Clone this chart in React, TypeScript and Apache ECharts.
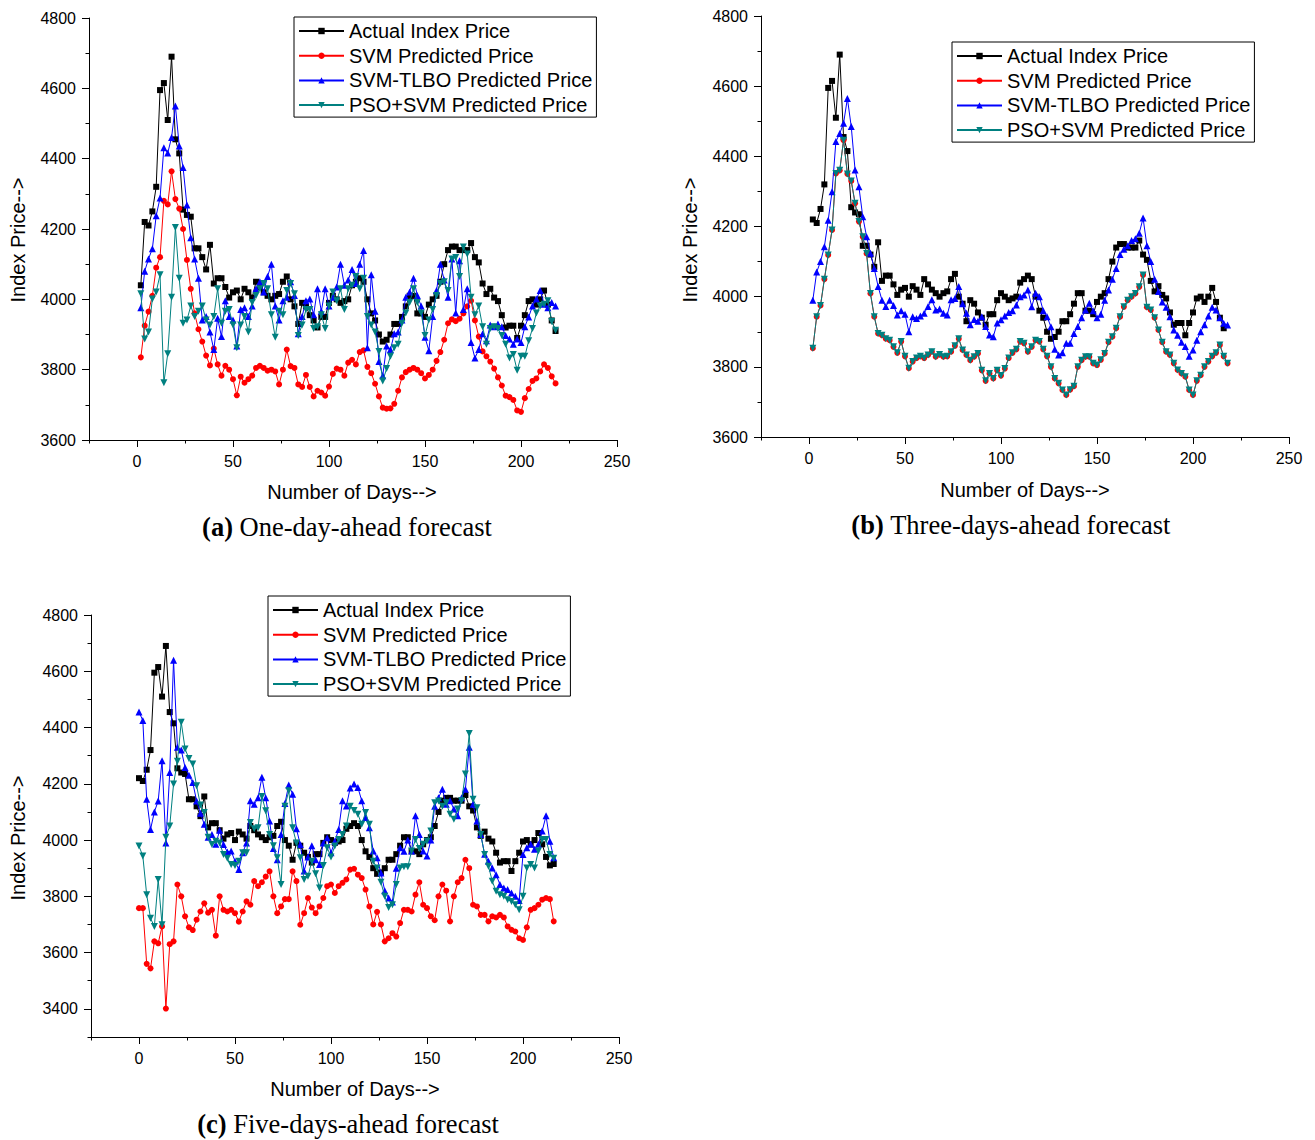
import React, { useEffect, useRef } from "react";
import * as echarts from "echarts";

// ---- Series names ----
const NAMES = ["Actual Index Price", "SVM Predicted Price", "SVM-TLBO Predicted Price", "PSO+SVM Predicted Price"];

// ---- Tick labels ----
const X_TICKS = [0, 50, 100, 150, 200, 250];
const X_MINOR = [-25, 25, 75, 125, 175, 225];
const Y_TICKS_AB = [3600, 3800, 4000, 4200, 4400, 4600, 4800];
const Y_MINOR_AB = [3700, 3900, 4100, 4300, 4500, 4700];
const Y_TICKS_C = [3400, 3600, 3800, 4000, 4200, 4400, 4600, 4800];
const Y_MINOR_C = [3300, 3500, 3700, 3900, 4100, 4300, 4500, 4700];

// ---- Actual index price, sampled every second day (days 2..218) ----
const ACTUAL = [
  4040, 4220, 4210, 4250, 4320, 4595, 4615, 4510, 4690, 4455,
  4415, 4255, 4240, 4235, 4145, 4145, 4120, 4085, 4155, 4045,
  4060, 4060, 4035, 4005, 4020, 4025, 4000, 4030, 4020, 4005,
  4050, 4035, 4020, 4010, 4000, 4010, 4015, 4050, 4065, 4000,
  3980, 3930, 3990, 3980, 3955, 3940, 3920, 3950, 3950, 3990,
  4010, 4000, 3990, 3995, 4000, 4040, 4050, 4060, 4050, 4000,
  3960, 3940, 3900, 3880, 3885, 3900, 3930, 3930, 3950, 3980,
  4010, 4010, 3960, 3960, 3950, 3985, 4000, 4010, 4050, 4100,
  4140, 4150, 4150, 4140, 4140, 4140, 4160, 4120, 4105, 4045,
  4015, 4030, 4005, 3995, 3955, 3920, 3925, 3925, 3890, 3925,
  3955, 3995, 4000, 3985, 4000, 4025, 3985, 3940, 3910,
];
const ACTUAL_C_TAIL = [3915];

// ---- (a) One-day-ahead (days 2..218) ----
const SVM_A = [
  3835, 3925, 3965, 4010, 4090, 4120, 4280, 4270, 4364, 4285,
  4258, 4200, 4112, 4030, 3960, 3915, 3880, 3840, 3812, 3860,
  3815, 3783, 3811, 3800, 3773, 3727, 3780, 3763, 3773, 3783,
  3805, 3811, 3805, 3797, 3800, 3795, 3758, 3800, 3857, 3810,
  3805, 3758, 3751, 3785, 3751, 3724, 3740, 3735, 3726, 3752,
  3788, 3803, 3800, 3783, 3820, 3828, 3815, 3850, 3855, 3808,
  3790, 3760, 3724, 3692, 3689, 3690, 3703, 3740, 3778, 3793,
  3800, 3805, 3800, 3790, 3775, 3785, 3800, 3825, 3850, 3885,
  3932, 3943, 3938, 3945, 3960, 3980, 3996, 3940, 3894, 3852,
  3838, 3823, 3803, 3778, 3755, 3726, 3722, 3714, 3684, 3680,
  3719, 3745, 3768, 3775, 3795, 3815, 3805, 3781, 3761,
];
const TLBO_A = [
  3976, 4080, 4115, 4144, 4238, 4288, 4431, 4416, 4460, 4550,
  4436, 4375, 4268, 4175, 4115, 4060, 3941, 3951, 3907, 3857,
  3946, 3894, 3996, 3951, 3941, 3867, 3971, 3976, 3951, 3981,
  4030, 4050, 4021, 4065, 4100, 3981, 3941, 3996, 4006, 4050,
  4011, 3902, 3951, 3996, 4001, 3956, 4030, 3966, 4030, 3981,
  4006, 4035, 4100, 4040, 4055, 4085, 4045, 4100, 4139, 3862,
  4070, 3966, 3823, 3783, 3867, 3857, 3902, 3907, 3941, 4006,
  4021, 4060, 4011, 3981, 3892, 3854, 3951, 4025, 4100, 4055,
  4006, 4115, 3961, 4110, 3971, 4030, 3877, 3833, 3857, 3902,
  3882, 3927, 3922, 3930, 3922, 3897, 3887, 3872, 3887, 3877,
  3922, 3950, 3981, 4001, 4025, 3986, 3976, 3991, 3981,
];
const PSO_A = [
  4016, 3887, 3907, 4001, 4021, 4070, 3763, 3845, 4006, 4204,
  4060, 3932, 3941, 3981, 3951, 3966, 3981, 3941, 3927, 3951,
  4030, 3932, 3966, 3971, 3927, 3862, 3927, 3951, 3907, 3991,
  4011, 4030, 4045, 4030, 3956, 3892, 3966, 3956, 4025, 4045,
  4016, 3897, 3927, 3971, 3971, 3917, 3922, 3956, 3917, 3981,
  4021, 3996, 4030, 3971, 4030, 4040, 4065, 4030, 4060, 3951,
  3927, 3907, 3852, 3768, 3803, 3838, 3862, 3872, 3932, 3961,
  3991, 4030, 3991, 3961, 3897, 3941, 3971, 4011, 4045, 4050,
  4025, 4115, 4119, 4065, 4149, 4129, 4006, 3956, 3981, 3922,
  3872, 3917, 3922, 3917, 3897, 3872, 3833, 3843, 3798, 3838,
  3838, 3882, 3917, 3961, 3981, 3986, 3996, 3937, 3912,
];

// ---- (b) Three-days-ahead (days 2..218) ----
const SVM_B = [
  3853, 3943, 3975, 4050, 4119, 4190, 4351, 4360, 4446, 4350,
  4330, 4266, 4214, 4171, 4123, 4009, 3943, 3895, 3890, 3880,
  3876, 3857, 3840, 3872, 3830, 3796, 3815, 3825, 3830, 3825,
  3834, 3843, 3829, 3835, 3829, 3830, 3843, 3860, 3880, 3848,
  3834, 3819, 3829, 3838, 3790, 3760, 3781, 3767, 3790, 3775,
  3795, 3825, 3840, 3850, 3872, 3867, 3843, 3857, 3876, 3872,
  3850, 3830, 3800, 3767, 3753, 3734, 3720, 3735, 3745, 3800,
  3819, 3829, 3829, 3810, 3805, 3820, 3838, 3870, 3886, 3910,
  3943, 3971, 3990, 4000, 4009, 4028, 4062, 3970, 3962, 3940,
  3905, 3870, 3843, 3834, 3810, 3791, 3781, 3772, 3734, 3720,
  3760, 3776, 3800, 3815, 3830, 3840, 3862, 3830, 3810,
];
const TLBO_B = [
  3990, 4070, 4100, 4142, 4218, 4299, 4442, 4465, 4494, 4565,
  4485, 4361, 4313, 4228, 4171, 4124, 4080, 4029, 3990, 3972,
  3990, 3975, 3948, 3960, 3950, 3900, 3943, 3938, 3945, 3953,
  3972, 3991, 3962, 3965, 3953, 3948, 3991, 3995, 4029, 3980,
  3953, 3920, 3935, 3930, 3943, 3915, 3891, 3886, 3925, 3934,
  3945, 3955, 3960, 3976, 4000, 4005, 4019, 3971, 4010, 4000,
  3960, 3943, 3914, 3850, 3834, 3840, 3867, 3867, 3895, 3915,
  3940, 3962, 3981, 3960, 3940, 3950, 3990, 4019, 4050, 4080,
  4120, 4135, 4145, 4160, 4165, 4181, 4224, 4145, 4100, 4050,
  4015, 3985, 3970, 3943, 3905, 3890, 3870, 3858, 3830, 3848,
  3876, 3900, 3920, 3945, 3970, 3962, 3940, 3924, 3919,
];
// PSO+SVM lies on top of the SVM curve in panel (b)
const PSO_B = [
  3853, 3943, 3975, 4050, 4119, 4190, 4351, 4360, 4446, 4350,
  4330, 4266, 4214, 4171, 4123, 4009, 3943, 3895, 3890, 3880,
  3876, 3857, 3840, 3872, 3830, 3796, 3815, 3825, 3830, 3825,
  3834, 3843, 3829, 3835, 3829, 3830, 3843, 3860, 3880, 3848,
  3834, 3819, 3829, 3838, 3790, 3760, 3781, 3767, 3790, 3775,
  3795, 3825, 3840, 3850, 3872, 3867, 3843, 3857, 3876, 3872,
  3850, 3830, 3800, 3767, 3753, 3734, 3720, 3735, 3745, 3800,
  3819, 3829, 3829, 3810, 3805, 3820, 3838, 3870, 3886, 3910,
  3943, 3971, 3990, 4000, 4009, 4028, 4062, 3970, 3962, 3940,
  3905, 3870, 3843, 3834, 3810, 3791, 3781, 3772, 3734, 3720,
  3760, 3776, 3800, 3815, 3830, 3840, 3862, 3830, 3810,
];

// ---- (c) Five-days-ahead (days 0..216) ----
const SVM_C = [
  3758, 3758, 3560, 3544, 3640, 3633, 3693, 3401, 3630, 3640,
  3842, 3800, 3729, 3690, 3680, 3717, 3746, 3775, 3742, 3752,
  3660, 3800, 3752, 3746, 3752, 3740, 3710, 3746, 3782, 3770,
  3854, 3836, 3850, 3870, 3889, 3800, 3740, 3764, 3790, 3790,
  3889, 3854, 3699, 3740, 3794, 3760, 3740, 3764, 3794, 3836,
  3842, 3812, 3836, 3848, 3860, 3895, 3898, 3877, 3865, 3824,
  3764, 3700, 3745, 3700, 3640, 3651, 3669, 3657, 3705, 3752,
  3752, 3746, 3806, 3850, 3770, 3758, 3729, 3715, 3800, 3842,
  3820, 3711, 3800, 3850, 3865, 3930, 3900, 3770, 3764, 3734,
  3734, 3711, 3729, 3725, 3734, 3725, 3693, 3681, 3675, 3651,
  3645, 3690, 3752, 3758, 3770, 3788, 3794, 3790, 3711,
];
const TLBO_C = [
  4455, 4425, 4145, 4038, 4100, 4139, 4282, 3990, 4240, 4639,
  4330, 4320, 4258, 4230, 4205, 4139, 4095, 4056, 4010, 4020,
  3985, 4035, 3984, 3958, 3961, 3925, 3895, 3955, 3990, 4140,
  4127, 4150, 4223, 4150, 4068, 3970, 3930, 4020, 4130, 4196,
  4163, 4040, 3984, 3890, 3940, 3980, 3930, 3913, 3990, 4008,
  3955, 3996, 4038, 4140, 4121, 4185, 4199, 4187, 4140, 4080,
  4044, 3961, 3937, 3883, 3820, 3794, 3780, 3900, 3973, 3960,
  4000, 3961, 4086, 4020, 3961, 3943, 4000, 4120, 4150, 4181,
  4127, 4140, 4110, 4086, 4150, 4181, 4330, 4127, 4068, 4020,
  3950, 3925, 3901, 3877, 3842, 3830, 3824, 3812, 3800, 3785,
  3949, 3973, 3985, 3967, 3985, 4032, 4086, 3996, 3937,
];
const PSO_C = [
  3979, 3943, 3806, 3722, 3693, 3860, 3699, 4010, 4050, 4199,
  4280, 4419, 4324, 4290, 4270, 4193, 4125, 4098, 4010, 3984,
  3996, 3990, 3949, 3935, 3913, 3910, 3925, 3955, 3955, 4062,
  4040, 4044, 4155, 4104, 4020, 3980, 3937, 3842, 4120, 4175,
  4044, 3990, 3937, 3860, 3871, 3925, 3880, 3830, 3910, 3973,
  3940, 3979, 4002, 4020, 4050, 4120, 4105, 4092, 4056, 4098,
  4056, 3925, 3901, 3850, 3800, 3760, 3770, 3842, 3901, 3905,
  3905, 3961, 4002, 3970, 3985, 3996, 4032, 4133, 4139, 4120,
  4133, 4092, 4074, 4110, 4140, 4235, 4379, 4145, 4115, 4020,
  3949, 3907, 3854, 3818, 3806, 3800, 3788, 3782, 3770, 3752,
  3800, 3901, 3913, 3901, 3961, 4002, 4002, 3949, 3935,
];

const SANS = "Liberation Sans, Arial, sans-serif";
const SERIF = "Liberation Serif, Times New Roman, serif";

function evenDays(start: number, count: number): number[] {
  const out: number[] = [];
  for (let i = 0; i < count; i++) out.push(start + 2 * i);
  return out;
}

function pts(start: number, vals: number[]) {
  const xs = evenDays(start, vals.length);
  return vals.map((v, i) => [xs[i], v]);
}

const INV_TRI = "path://M0,0 L10,0 L5,8.66 Z";

const STYLES = [
  { color: "#000000", symbol: "rect", size: 6 },
  { color: "#ff0000", symbol: "circle", size: 6 },
  { color: "#0000ff", symbol: "triangle", size: 7 },
  { color: "#008080", symbol: INV_TRI, size: 7 },
];

function makeSeries(axisIdx: number, datasets: number[][][]) {
  return datasets.map((d, k) => ({
    name: NAMES[k],
    type: "line",
    xAxisIndex: axisIdx,
    yAxisIndex: axisIdx,
    data: d,
    symbol: STYLES[k].symbol,
    symbolSize: STYLES[k].size,
    showAllSymbol: true,
    lineStyle: { color: STYLES[k].color, width: 1 },
    itemStyle: { color: STYLES[k].color },
    emphasis: { disabled: true },
    z: 2 + k,
  }));
}

const plain = (v: number) => String(v);

function mainX(gridIndex: number) {
  return {
    type: "value",
    gridIndex,
    position: "bottom",
    min: -25,
    max: 250,
    interval: 25,
    axisLine: { show: true, onZero: false, lineStyle: { color: "#000", width: 1 } },
    axisTick: { show: true, length: 7, customValues: X_TICKS, lineStyle: { color: "#000" } },
    axisLabel: { customValues: X_TICKS, formatter: plain, color: "#000", fontSize: 16, fontFamily: SANS, margin: 13 },
    splitLine: { show: false },
  };
}
function minorX(gridIndex: number) {
  return {
    type: "value",
    gridIndex,
    position: "bottom",
    offset: 0,
    min: -25,
    max: 250,
    interval: 25,
    axisLine: { show: false, onZero: false },
    axisTick: { show: true, length: 3.5, customValues: X_MINOR, lineStyle: { color: "#000" } },
    axisLabel: { show: false },
    splitLine: { show: false },
  };
}
function mainY(gridIndex: number, min: number, ticks: number[]) {
  return {
    type: "value",
    gridIndex,
    position: "left",
    min,
    max: 4800,
    interval: 100,
    axisLine: { show: true, onZero: false, lineStyle: { color: "#000", width: 1 } },
    axisTick: { show: true, length: 7, customValues: ticks, lineStyle: { color: "#000" } },
    axisLabel: { customValues: ticks, formatter: plain, color: "#000", fontSize: 16, fontFamily: SANS, margin: 13 },
    splitLine: { show: false },
  };
}
function minorY(gridIndex: number, min: number, ticks: number[]) {
  return {
    type: "value",
    gridIndex,
    position: "left",
    offset: 0,
    min,
    max: 4800,
    interval: 100,
    axisLine: { show: false, onZero: false },
    axisTick: { show: true, length: 3.5, customValues: ticks, lineStyle: { color: "#000" } },
    axisLabel: { show: false },
    splitLine: { show: false },
  };
}

function legendAt(left: number, top: number) {
  return {
    data: NAMES,
    orient: "vertical",
    left,
    top,
    selectedMode: false,
    backgroundColor: "#fff",
    borderColor: "#000",
    borderWidth: 1,
    borderRadius: 0,
    padding: [4, 4, 2, 4],
    itemWidth: 45,
    itemHeight: 8,
    itemGap: 4.7,
    textStyle: { fontSize: 20, fontFamily: SANS, color: "#000", lineHeight: 20 },
  };
}

function text(x: number, y: number, t: string, opts: any = {}) {
  return {
    type: "text",
    x,
    y,
    rotation: opts.rotation || 0,
    style: {
      text: t,
      fontSize: opts.fontSize || 20,
      fontFamily: opts.fontFamily || SANS,
      fill: "#000",
      align: "center",
      verticalAlign: "middle",
      rich: opts.rich,
    },
  };
}

export default function App() {
  const ref = useRef<HTMLDivElement>(null);

  useEffect(() => {
    document.body.style.margin = "0";
    if (!ref.current) return;
    const chart = echarts.init(ref.current, null, { renderer: "svg" });

    const actualB = ACTUAL.slice(1);
    const actualC = ACTUAL.slice(1).concat(ACTUAL_C_TAIL);

    const capRich = { b: { fontWeight: "bold", fontSize: 26.5, fontFamily: SERIF } };

    const option: any = {
      animation: false,
      backgroundColor: "#fff",
      grid: [
        { left: 89, top: 18, width: 528, height: 422, outerBoundsMode: "none" },
        { left: 761, top: 16, width: 528, height: 421, outerBoundsMode: "none" },
        { left: 91, top: 615, width: 528, height: 422, outerBoundsMode: "none" },
      ],
      xAxis: [mainX(0), minorX(0), mainX(1), minorX(1), mainX(2), minorX(2)],
      yAxis: [
        mainY(0, 3600, Y_TICKS_AB), minorY(0, 3600, Y_MINOR_AB),
        mainY(1, 3600, Y_TICKS_AB), minorY(1, 3600, Y_MINOR_AB),
        mainY(2, 3300, Y_TICKS_C), minorY(2, 3300, Y_MINOR_C),
      ],
      legend: [legendAt(294, 17), legendAt(952, 42), legendAt(268, 596)],
      series: [
        ...makeSeries(0, [pts(2, ACTUAL), pts(2, SVM_A), pts(2, TLBO_A), pts(2, PSO_A)]),
        ...makeSeries(2, [pts(2, actualB), pts(2, SVM_B), pts(2, TLBO_B), pts(2, PSO_B)]),
        ...makeSeries(4, [pts(0, actualC), pts(0, SVM_C), pts(0, TLBO_C), pts(0, PSO_C)]),
      ],
      graphic: [
        text(18, 240, "Index Price-->", { rotation: Math.PI / 2 }),
        text(352, 492, "Number of Days-->"),
        text(347, 527, "{b|(a)} One-day-ahead forecast", { fontSize: 26.5, fontFamily: SERIF, rich: capRich }),
        text(690, 240, "Index Price-->", { rotation: Math.PI / 2 }),
        text(1025, 490, "Number of Days-->"),
        text(1011, 525, "{b|(b)} Three-days-ahead forecast", { fontSize: 26.5, fontFamily: SERIF, rich: capRich }),
        text(18, 838, "Index Price-->", { rotation: Math.PI / 2 }),
        text(355, 1089, "Number of Days-->"),
        text(348, 1124, "{b|(c)} Five-days-ahead forecast", { fontSize: 26.5, fontFamily: SERIF, rich: capRich }),
      ],
    };

    chart.setOption(option);
    return () => chart.dispose();
  }, []);

  return <div ref={ref} style={{ width: 1315, height: 1140 }} />;
}
